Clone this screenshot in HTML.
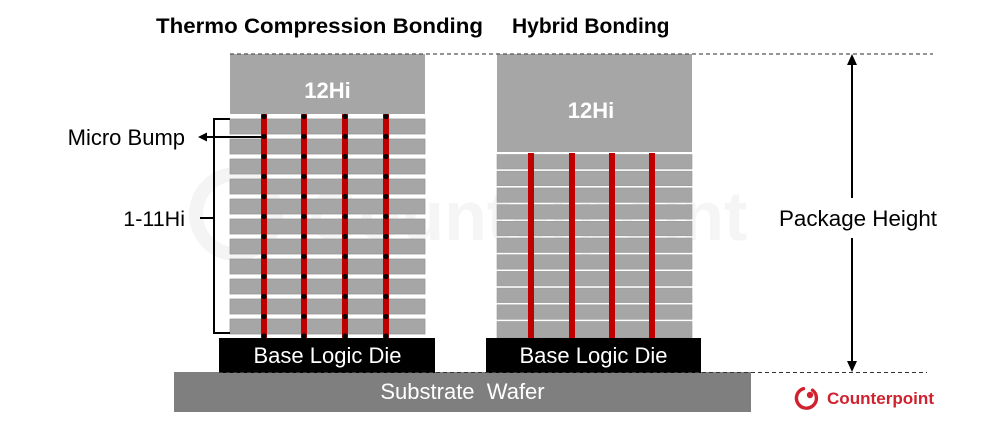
<!DOCTYPE html>
<html>
<head>
<meta charset="utf-8">
<style>
  html, body { margin:0; padding:0; background:#fff; }
  body { width:988px; height:423px; overflow:hidden; }
  svg { display:block; }
  text { font-family: "Liberation Sans", Arial, sans-serif; }
</style>
</head>
<body>
<svg width="988" height="423" viewBox="0 0 988 423" xmlns="http://www.w3.org/2000/svg">
  <rect x="0" y="0" width="988" height="423" fill="#ffffff"/>

  <!-- faint watermark -->
  <g opacity="1">
    <circle cx="236" cy="214" r="40" fill="none" stroke="#f4f4f4" stroke-width="14"/>
    <text x="308" y="240" font-size="70" font-weight="bold" fill="#f5f5f5">Counterpoint</text>
  </g>

  <!-- Titles -->
  <text x="156" y="33" font-size="21" font-weight="bold" fill="#000" textLength="327" lengthAdjust="spacingAndGlyphs">Thermo Compression Bonding</text>
  <text x="512" y="33" font-size="21" font-weight="bold" fill="#000">Hybrid Bonding</text>

  <!-- Substrate -->
  <rect x="174" y="372" width="577" height="40" fill="#7f7f7f"/>
  <text x="462.5" y="399" font-size="22" fill="#fff" text-anchor="middle" xml:space="preserve">Substrate  Wafer</text>

  <!-- TCB stack -->
  <rect x="230" y="54" width="195" height="60" fill="#a6a6a6"/>
  <text x="327.5" y="98" font-size="22" font-weight="bold" fill="#fff" text-anchor="middle">12Hi</text>
  <g fill="#a6a6a6" stroke="#999" stroke-width="0.8">
    <rect x="230" y="119" width="195" height="15"/>
    <rect x="230" y="139" width="195" height="15"/>
    <rect x="230" y="159" width="195" height="15"/>
    <rect x="230" y="179" width="195" height="15"/>
    <rect x="230" y="199" width="195" height="15"/>
    <rect x="230" y="219" width="195" height="15"/>
    <rect x="230" y="239" width="195" height="15"/>
    <rect x="230" y="259" width="195" height="15"/>
    <rect x="230" y="279" width="195" height="15"/>
    <rect x="230" y="299" width="195" height="15"/>
    <rect x="230" y="319" width="195" height="15"/>
  </g>
  <g fill="#c00000">
    <rect x="261" y="114" width="6" height="224"/>
    <rect x="301" y="114" width="6" height="224"/>
    <rect x="342" y="114" width="6" height="224"/>
    <rect x="383" y="114" width="6" height="224"/>
  </g>
  <g fill="#000">
    <g id="dotcol">
      <circle cx="264" cy="116.5" r="2.6"/>
      <circle cx="264" cy="136.5" r="2.6"/>
      <circle cx="264" cy="156.5" r="2.6"/>
      <circle cx="264" cy="176.5" r="2.6"/>
      <circle cx="264" cy="196.5" r="2.6"/>
      <circle cx="264" cy="216.5" r="2.6"/>
      <circle cx="264" cy="236.5" r="2.6"/>
      <circle cx="264" cy="256.5" r="2.6"/>
      <circle cx="264" cy="276.5" r="2.6"/>
      <circle cx="264" cy="296.5" r="2.6"/>
      <circle cx="264" cy="316.5" r="2.6"/>
      <circle cx="264" cy="336" r="2.6"/>
    </g>
    <use href="#dotcol" x="40"/>
    <use href="#dotcol" x="81"/>
    <use href="#dotcol" x="122"/>
  </g>

  <!-- TCB base die -->
  <rect x="219" y="338" width="216" height="35" fill="#000"/>
  <text x="327.5" y="363" font-size="22" fill="#fff" text-anchor="middle">Base Logic Die</text>

  <!-- Hybrid stack -->
  <rect x="497" y="54" width="195" height="98" fill="#a6a6a6"/>
  <text x="591" y="118" font-size="22" font-weight="bold" fill="#fff" text-anchor="middle">12Hi</text>
  <g fill="#a6a6a6" stroke="#999" stroke-width="0.6">
    <rect x="497" y="154.5" width="195" height="14.5"/>
    <rect x="497" y="171.2" width="195" height="14.5"/>
    <rect x="497" y="187.9" width="195" height="14.5"/>
    <rect x="497" y="204.6" width="195" height="14.5"/>
    <rect x="497" y="221.3" width="195" height="14.5"/>
    <rect x="497" y="238.0" width="195" height="14.5"/>
    <rect x="497" y="254.7" width="195" height="14.5"/>
    <rect x="497" y="271.4" width="195" height="14.5"/>
    <rect x="497" y="288.1" width="195" height="14.5"/>
    <rect x="497" y="304.8" width="195" height="14.5"/>
    <rect x="497" y="321.5" width="195" height="16.5"/>
  </g>
  <g fill="#c00000">
    <rect x="528" y="153" width="6" height="185"/>
    <rect x="569" y="153" width="6" height="185"/>
    <rect x="609" y="153" width="6" height="185"/>
    <rect x="649" y="153" width="6" height="185"/>
  </g>

  <!-- Hybrid base die -->
  <rect x="486" y="338" width="215" height="35" fill="#000"/>
  <text x="593.5" y="363" font-size="22" fill="#fff" text-anchor="middle">Base Logic Die</text>

  <!-- Dashed reference lines -->
  <line x1="230" y1="54" x2="933" y2="54" stroke="#555" stroke-width="1.3" stroke-dasharray="4 3"/>
  <line x1="219" y1="372.5" x2="927" y2="372.5" stroke="#333" stroke-width="1" stroke-dasharray="4 3"/>

  <!-- Bracket 1-11Hi -->
  <path d="M230,119 H214 V333 H230" fill="none" stroke="#000" stroke-width="2"/>
  <line x1="200" y1="218" x2="214" y2="218" stroke="#000" stroke-width="2"/>
  <text x="185" y="226" font-size="21.5" fill="#000" text-anchor="end">1-11Hi</text>

  <!-- Micro bump arrow -->
  <line x1="264" y1="137" x2="205" y2="137" stroke="#000" stroke-width="2"/>
  <polygon points="198,137 207,132.5 207,141.5" fill="#000"/>
  <text x="185" y="145" font-size="22" fill="#000" text-anchor="end">Micro Bump</text>

  <!-- Package height arrow -->
  <line x1="852" y1="62" x2="852" y2="198" stroke="#000" stroke-width="2"/>
  <line x1="852" y1="238" x2="852" y2="364" stroke="#000" stroke-width="2"/>
  <polygon points="852,54 847,65 857,65" fill="#000"/>
  <polygon points="852,372 847,361 857,361" fill="#000"/>
  <text x="779" y="226" font-size="22" fill="#000" textLength="158" lengthAdjust="spacingAndGlyphs">Package Height</text>

  <!-- Counterpoint logo -->
  <g>
    <path d="M812.5,390.2 A10,10 0 1 1 803.5,388.6" fill="none" stroke="#d0212f" stroke-width="3.4" stroke-linecap="round"/>
    <circle cx="810" cy="395" r="3.2" fill="#d0212f"/>
    <text x="827" y="404" font-size="16.5" font-weight="bold" fill="#d0212f" textLength="107" lengthAdjust="spacingAndGlyphs">Counterpoint</text>
  </g>
</svg>
</body>
</html>
